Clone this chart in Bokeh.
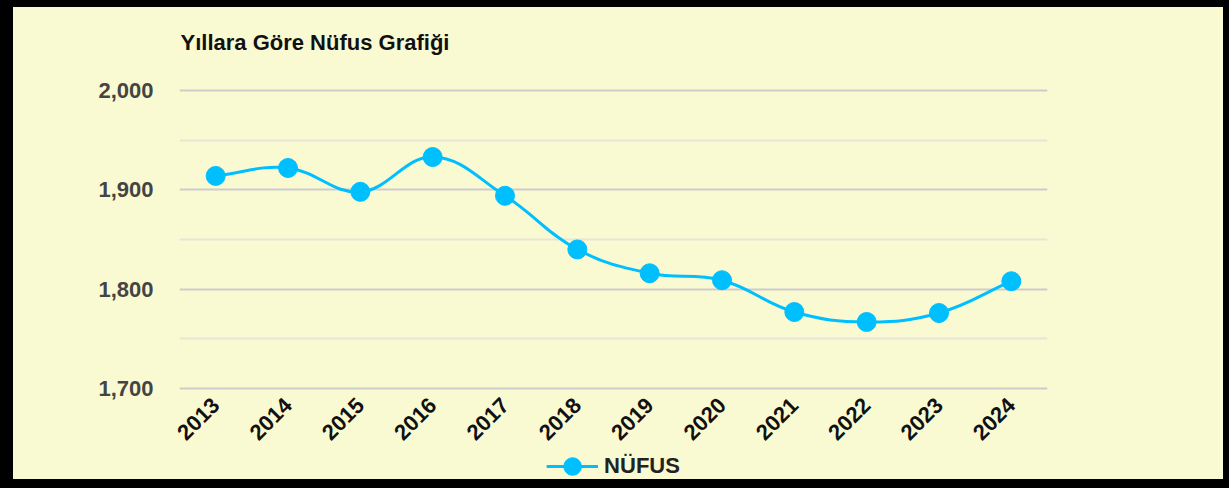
import math
from bokeh.plotting import figure
from bokeh.models import (ColumnDataSource, FixedTicker, NumeralTickFormatter,
                          Legend, LegendItem, Range1d, Title)
from bokeh.layouts import column
from bokeh.embed import file_html
from bokeh.resources import INLINE

# ---- data ----
years = ["2013", "2014", "2015", "2016", "2017", "2018",
         "2019", "2020", "2021", "2022", "2023", "2024"]
population = [1914, 1922, 1898, 1933, 1894, 1840, 1816, 1809, 1777, 1767, 1776, 1808]
y_major_ticks = [1700, 1800, 1900, 2000]
y_minor_ticks = [1750, 1850, 1950]
series_name = "NÜFUS"
title_text = "Yıllara Göre Nüfus Grafiği"

# ---- style ----
BG = "#FAFAD2"
LINE = "#00BFFF"
FONT = "Liberation Sans"
W = 1210
H1, H2 = 446, 26
YPAD = 2                      # small margin so edge gridlines are not clipped
ML, MR, MT = 166, 176, 81
frame_h = 302
MB = H1 - MT - frame_h
frame_w = W - ML - MR
y_lo, y_hi = y_major_ticks[0] - YPAD, y_major_ticks[-1] + YPAD

xs = list(range(len(years)))
src = ColumnDataSource(dict(x=xs, y=population, year=years))

# smooth curve (Chart.js style spline, tension 0.4), computed in pixel-like space
ppx = frame_w / len(years)
ppy = frame_h / (y_hi - y_lo)
T = 0.4
n = len(xs)
cp_prev, cp_next = [], []
for i in range(n):
    px0, py0 = xs[max(i - 1, 0)], population[max(i - 1, 0)]
    px1, py1 = xs[i], population[i]
    px2, py2 = xs[min(i + 1, n - 1)], population[min(i + 1, n - 1)]
    d01 = math.hypot((px1 - px0) * ppx, (py1 - py0) * ppy)
    d12 = math.hypot((px2 - px1) * ppx, (py2 - py1) * ppy)
    tot = d01 + d12 if d01 + d12 else 1
    fa = T * d01 / tot
    fb = T * d12 / tot
    cp_prev.append((px1 - fa * (px2 - px0), py1 - fa * (py2 - py0)))
    cp_next.append((px1 + fb * (px2 - px0), py1 + fb * (py2 - py0)))
bez = ColumnDataSource(dict(
    x0=xs[:-1], y0=population[:-1], x1=xs[1:], y1=population[1:],
    cx0=[c[0] for c in cp_next[:-1]], cy0=[c[1] for c in cp_next[:-1]],
    cx1=[c[0] for c in cp_prev[1:]], cy1=[c[1] for c in cp_prev[1:]],
))

p = figure(width=W, height=H1, output_backend="svg", toolbar_location=None,
           x_range=Range1d(-0.5, len(years) - 0.5),
           y_range=Range1d(y_lo, y_hi),
           min_border_left=ML, min_border_right=MR,
           min_border_top=MT, min_border_bottom=MB,
           background_fill_color=BG, border_fill_color=BG)
p.outline_line_color = None

p.title.text = title_text
p.title.text_font = FONT
p.title.text_font_size = "22px"
p.title.text_font_style = "bold"
p.title.text_color = "#111111"
p.title.align = "left"
p.title.standoff = 20
p.title.offset = 1
# empty spacer between the title and the plot area
p.add_layout(Title(text=" ", text_font_size="1px", standoff=21), "above")

# axes
p.xaxis.ticker = FixedTicker(ticks=xs)
p.xaxis.major_label_overrides = {i: y for i, y in enumerate(years)}
p.xaxis.major_label_orientation = math.pi / 4
p.xaxis.major_label_text_font = FONT
p.xaxis.major_label_text_font_size = "22px"
p.xaxis.major_label_text_font_style = "bold"
p.xaxis.major_label_text_color = "#111111"
p.xaxis.major_label_standoff = 11
p.xaxis.major_tick_in = 0
p.xaxis.major_tick_out = 0
p.xaxis.axis_line_color = None
p.xaxis.major_tick_line_color = None
p.xaxis.minor_tick_line_color = None
p.xgrid.grid_line_color = None

p.yaxis.ticker = FixedTicker(ticks=y_major_ticks, minor_ticks=y_minor_ticks)
p.yaxis.formatter = NumeralTickFormatter(format="0,0")
p.yaxis.major_label_text_font = FONT
p.yaxis.major_label_text_font_size = "22px"
p.yaxis.major_label_text_font_style = "bold"
p.yaxis.major_label_text_color = "#444444"
p.yaxis.major_label_standoff = 22
p.yaxis.major_tick_in = 0
p.yaxis.major_tick_out = 0
p.yaxis.axis_line_color = None
p.yaxis.major_tick_line_color = None
p.yaxis.minor_tick_line_color = None
p.ygrid.grid_line_color = "#cccccc"
p.ygrid.grid_line_width = 2
p.ygrid.minor_grid_line_color = "#e6e6d6"
p.ygrid.minor_grid_line_width = 2

# series
p.bezier(x0="x0", y0="y0", x1="x1", y1="y1", cx0="cx0", cy0="cy0",
         cx1="cx1", cy1="cy1", source=bez, line_color=LINE, line_width=3)
p.ellipse(x="x", y="y", width=19, height=19, width_units="screen",
          height_units="screen", source=src, fill_color=LINE, line_color=LINE)

# ---- legend strip (separate small figure below) ----
q = figure(width=W, height=H2, output_backend="svg", toolbar_location=None,
           x_range=Range1d(0, 1), y_range=Range1d(0, 1),
           min_border_left=0, min_border_right=0, min_border_top=0, min_border_bottom=0,
           background_fill_color=BG, border_fill_color=BG)
q.outline_line_color = None
q.xaxis.visible = False
q.yaxis.visible = False
q.grid.visible = False
leg_line = q.line(x=[5, 6], y=[5, 5], line_color=LINE, line_width=3)
leg_dot = q.ellipse(x=[5], y=[5], width=19, height=19, width_units="screen",
                    height_units="screen", fill_color=LINE, line_color=LINE)
legend = Legend(items=[LegendItem(label=series_name, renderers=[leg_line, leg_dot])],
                location="center", orientation="horizontal",
                glyph_width=52, glyph_height=22, label_standoff=6,
                label_text_font=FONT, label_text_font_size="22px",
                label_text_font_style="bold", label_text_color="#222222",
                background_fill_alpha=0, border_line_color=None,
                padding=0, margin=0, spacing=0)
q.add_layout(legend, "center")

layout = column(p, q, spacing=0,
                styles={"background-color": BG,
                        "border-style": "solid", "border-color": "black",
                        "border-width": "7px 6px 9px 13px"})

open("out.html", "w").write(file_html(layout, INLINE))
